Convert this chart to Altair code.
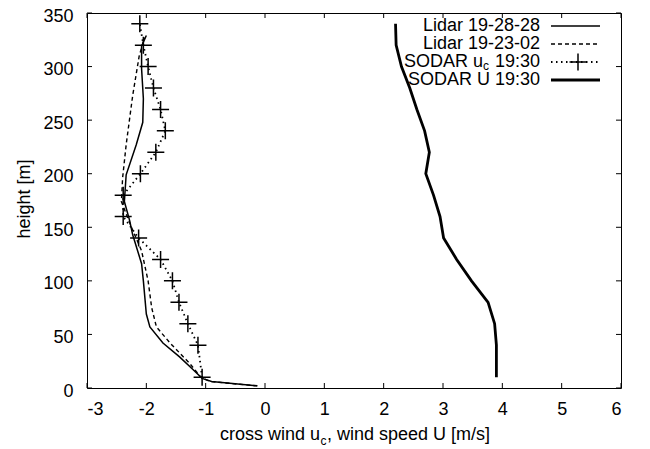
import altair as alt
import pandas as pd

FONT = "Liberation Sans"

x_ticks = [-3, -2, -1, 0, 1, 2, 3, 4, 5, 6]
y_ticks = [0, 50, 100, 150, 200, 250, 300, 350]

lidar1_h = [2, 6, 9, 17, 29, 42, 57, 69, 100, 116, 143, 156, 174, 199, 227, 248, 270, 298, 319, 329]
lidar1_x = [-0.13, -0.90, -1.06, -1.21, -1.44, -1.72, -1.94, -2.00, -2.05, -2.08, -2.23, -2.28, -2.37,
            -2.34, -2.17, -2.06, -2.05, -2.08, -2.08, -2.00]

lidar2_h = [2, 6, 10, 23, 42, 57, 75, 100, 128, 150, 174, 196, 227, 273, 310, 327]
lidar2_x = [-0.13, -0.92, -1.08, -1.27, -1.60, -1.83, -1.91, -1.97, -2.08, -2.25, -2.42, -2.40,
            -2.34, -2.23, -2.12, -2.03]

sodar_h = [10, 40, 60, 80, 100, 120, 140, 160, 180, 200, 220, 240, 260, 280, 300, 320, 340]
sodar_uc = [-1.06, -1.13, -1.30, -1.45, -1.56, -1.76, -2.13, -2.39, -2.39, -2.10, -1.84, -1.68,
            -1.76, -1.88, -1.97, -2.05, -2.11]
sodar_U = [3.90, 3.90, 3.87, 3.76, 3.48, 3.23, 3.01, 2.95, 2.84, 2.71, 2.77, 2.69, 2.56, 2.44,
           2.30, 2.21, 2.20]

W, H = 534, 375
TOP = 5

def frame(xs, hs):
    return pd.DataFrame({"x": xs, "h": hs, "i": list(range(len(xs)))})

xscale = alt.Scale(domain=[-3, 6], nice=False, zero=False)
yscale = alt.Scale(domain=[0, 350], nice=False, zero=False)
xaxis = alt.Axis(values=x_ticks, title=None, ticks=False, tickSize=0, domain=False, grid=False,
                 labelFontSize=18, labelFont=FONT, labelColor="black", labelPadding=12,
                 labelExpr="'' + datum.value")
yaxis = alt.Axis(values=y_ticks, title=None, ticks=False, tickSize=0, domain=False, grid=False,
                 labelFontSize=18, labelFont=FONT, labelColor="black", labelPadding=14,
                 labelOffset=3, labelExpr="'' + datum.value")

def X(f):
    return alt.X(f, type="quantitative", scale=xscale, axis=xaxis)

def Y(f):
    return alt.Y(f, type="quantitative", scale=yscale, axis=yaxis)

def line(df, **kw):
    return alt.Chart(df).mark_line(color="black", **kw).encode(
        x=X("x"), y=Y("h"), order=alt.Order("i:Q"))

lid1 = line(frame(lidar1_x, lidar1_h), strokeWidth=1.5)
lid2 = line(frame(lidar2_x, lidar2_h), strokeWidth=1.4, strokeDash=[4, 3])
uc_line = line(frame(sodar_uc, sodar_h), strokeWidth=1.8, strokeDash=[1.5, 3.5])
CROSS = "M-1,0L1,0M0,-1L0,1"
uc_pts = alt.Chart(frame(sodar_uc, sodar_h)).mark_point(
    shape=CROSS, size=289, color="black", strokeWidth=1.5, filled=False, opacity=1
).encode(x=X("x"), y=Y("h"))
U_line = line(frame(sodar_U, sodar_h), strokeWidth=2.8)

# inward ticks on all four sides
xt = pd.DataFrame({"t": x_ticks})
yt = pd.DataFrame({"t": y_ticks})
tick_layers = [
    alt.Chart(xt).mark_rule(color="black", strokeWidth=1).encode(x=X("t"), y=alt.value(H), y2=alt.value(H - 5)),
    alt.Chart(xt).mark_rule(color="black", strokeWidth=1).encode(x=X("t"), y=alt.value(0), y2=alt.value(5)),
    alt.Chart(yt).mark_rule(color="black", strokeWidth=1).encode(y=Y("t"), x=alt.value(0), x2=alt.value(5)),
    alt.Chart(yt).mark_rule(color="black", strokeWidth=1).encode(y=Y("t"), x=alt.value(W), x2=alt.value(W - 5)),
]

one = alt.Data(values=[{"a": 1}])

def txt(s, x, y, size=18, align="left", baseline="alphabetic", angle=0):
    kw = dict(text=s, fontSize=size, font=FONT, color="black", align=align, baseline=baseline)
    if angle:
        kw["angle"] = angle
    return alt.Chart(one).mark_text(**kw).encode(x=alt.value(x), y=alt.value(y))

def seg(y, **kw):
    return alt.Chart(one).mark_rule(color="black", **kw).encode(
        x=alt.value(464), x2=alt.value(513), y=alt.value(y))

# legend rows (pixel offsets inside the plot area)
r1, r2, r3, r4 = 13, 31, 49, 67

labels = [
    # x title with subscript
    txt("cross wind u", 233, 427, align="right"),
    txt("c", 233.5, 432, size=12, align="left"),
    txt(", wind speed U [m/s]", 240, 427, align="left"),
    # y title
    txt("height [m]", -57, 186, align="center", angle=270),
    # legend
    txt("Lidar 19-28-28", 453, r1, align="right", baseline="middle"),
    seg(r1, strokeWidth=1.5),
    txt("Lidar 19-23-02", 453, r2, align="right", baseline="middle"),
    seg(r2, strokeWidth=1.4, strokeDash=[4, 3]),
    txt(" 19:30", 453, r3, align="right", baseline="middle"),
    txt("c", 402, r3 + 4, size=12, align="right", baseline="middle"),
    txt("SODAR u", 396, r3, align="right", baseline="middle"),
    seg(r3, strokeWidth=1.8, strokeDash=[1.5, 3.5]),
    alt.Chart(one).mark_point(shape=CROSS, size=289, color="black", strokeWidth=1.5,
                              filled=False, opacity=1).encode(x=alt.value(491), y=alt.value(r3)),
    txt("SODAR U 19:30", 453, r4, align="right", baseline="middle"),
    seg(r4, strokeWidth=2.8),
]

chart = alt.layer(lid1, lid2, uc_line, uc_pts, U_line, *tick_layers, *labels).properties(
    width=W, height=H,
    autosize=alt.AutoSizeParams(type="none"),
    padding={"left": 79, "top": TOP, "right": 21, "bottom": 61},
).configure_view(stroke="black", strokeWidth=1)

chart.save("out.html", embed_options={"renderer": "svg", "actions": False})
